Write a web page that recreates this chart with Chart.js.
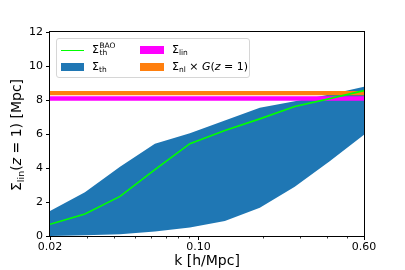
<!DOCTYPE html>
<html>
<head>
<meta charset="utf-8">
<script src="https://cdn.jsdelivr.net/npm/chart.js@4.4.1/dist/chart.umd.min.js"></script>
<style>
  html, body { margin: 0; padding: 0; background: #fff; }
  #wrap { position: relative; width: 405px; height: 270px; font-family: "DejaVu Sans", sans-serif; color: #000; }
  canvas { position: absolute; left: 0; top: 0; }
  .legend { position: absolute; left: 56px; top: 38px; width: 192px; height: 38px; border: 1px solid #d6d6d6; border-radius: 3px; background: rgba(255,255,255,0.8); }
  .sw { position: absolute; }
  .lab { position: absolute; font-size: 11px; line-height: 12px; white-space: nowrap; }
  .stk { display: inline-block; vertical-align: middle; line-height: 7px; font-size: 7.5px; position: relative; top: -1px; margin-left: 0.5px; }
  .stk span { display: block; }
  sub { font-size: 7.5px; vertical-align: -2px; line-height: 0; }
  .ytitle { position: absolute; left: 16px; top: 135px; transform: translate(-50%, -50%) rotate(-90deg); font-size: 14px; white-space: nowrap; }
  .ytitle sub { font-size: 9.5px; vertical-align: -3px; }
  i { font-style: italic; }
</style>
</head>
<body>
<div id="wrap">
  <canvas id="c" width="405" height="270"></canvas>
  <div class="ytitle">Σ<sub>lin</sub>(<i>z</i> = 1) [Mpc]</div>
  <div class="legend">
    <div class="sw" style="left:4px;top:10.5px;width:23px;height:1.6px;background:#00ff00"></div>
    <div class="lab" style="left:35px;top:4px">Σ<span class="stk"><span>BAO</span><span>th</span></span></div>
    <div class="sw" style="left:4px;top:23.5px;width:23px;height:8px;background:#1f77b4"></div>
    <div class="lab" style="left:35px;top:22px">Σ<sub>th</sub></div>
    <div class="sw" style="left:83px;top:6.5px;width:24px;height:8px;background:#ff00ff"></div>
    <div class="lab" style="left:115px;top:5px">Σ<sub>lin</sub></div>
    <div class="sw" style="left:83px;top:23.5px;width:24px;height:8px;background:#ff7f0e"></div>
    <div class="lab" style="left:115px;top:22px">Σ<sub>nl</sub> × <i>G</i>(<i>z</i> = 1)</div>
  </div>
</div>
<script>
// ---- data ----
const kValues = [0.02, 0.0292, 0.0427, 0.0623, 0.0910, 0.1329, 0.1941, 0.2834, 0.4138, 0.60];
const sigmaBAO = [0.69, 1.29, 2.33, 3.90, 5.43, 6.20, 6.89, 7.62, 8.08, 8.55];
const sigmaThUpper = [1.47, 2.58, 4.08, 5.42, 6.04, 6.80, 7.55, 7.92, 8.33, 8.78];
const sigmaThLower = [0.00, 0.04, 0.10, 0.26, 0.50, 0.88, 1.66, 2.90, 4.40, 5.95];
const sigmaLinBand = [7.96, 8.22];   // lower, upper
const sigmaNlBand = [8.28, 8.53];    // lower, upper
const xRange = [0.02, 0.60];
const yRange = [0, 12];
const yTicks = [0, 2, 4, 6, 8, 10, 12];
const xMajorTicks = [0.02, 0.10, 0.60];
const xTickLabels = ['0.02', '0.10', '0.60'];
const xMinorTicks = [0.03, 0.04, 0.05, 0.06, 0.07, 0.08, 0.09, 0.2, 0.3, 0.4, 0.5];

const pts = (xs, ys) => xs.map((x, i) => ({ x: x, y: ys[i] }));
const band = (v) => xRange.map(x => ({ x: x, y: v }));

const framePlugin = {
  id: 'frame',
  afterDatasetsDraw(chart) {
    const a = chart.chartArea, ctx = chart.ctx;
    ctx.save();
    ctx.strokeStyle = '#000';
    ctx.lineWidth = 1;
    ctx.strokeRect(Math.round(a.left) - 0.5, Math.round(a.top) - 0.5, Math.round(a.right - a.left) + 1, Math.round(a.bottom - a.top) + 1);
    // minor ticks on log x axis
    const xs = chart.scales.x;
    ctx.beginPath();
    xMinorTicks.forEach(v => {
      const px = Math.round(xs.getPixelForValue(v)) + 0.5;
      ctx.moveTo(px, Math.round(a.bottom) + 0.5);
      ctx.lineTo(px, Math.round(a.bottom) + 2.5);
    });
    ctx.lineWidth = 0.8;
    ctx.stroke();
    ctx.restore();
  }
};

const font = { family: 'DejaVu Sans', size: 11 };

new Chart(document.getElementById('c'), {
  type: 'line',
  data: {
    datasets: [
      { label: 'BAO', data: pts(kValues, sigmaBAO), borderColor: '#00ff00', borderWidth: 1.6, pointRadius: 0, fill: false, order: 0, tension: 0 },
      { label: 'th upper', data: pts(kValues, sigmaThUpper), borderColor: '#1f77b4', borderWidth: 0, backgroundColor: '#1f77b4', pointRadius: 0, fill: 2, order: 3, tension: 0 },
      { label: 'th lower', data: pts(kValues, sigmaThLower), borderColor: '#1f77b4', borderWidth: 0, pointRadius: 0, fill: false, order: 3, tension: 0 },
      { label: 'lin upper', data: band(sigmaLinBand[1]), borderWidth: 0, backgroundColor: '#ff00ff', pointRadius: 0, fill: 4, order: 2 },
      { label: 'lin lower', data: band(sigmaLinBand[0]), borderWidth: 0, pointRadius: 0, fill: false, order: 2 },
      { label: 'nl upper', data: band(sigmaNlBand[1]), borderWidth: 0, backgroundColor: '#ff7f0e', pointRadius: 0, fill: 6, order: 1 },
      { label: 'nl lower', data: band(sigmaNlBand[0]), borderWidth: 0, pointRadius: 0, fill: false, order: 1 }
    ]
  },
  options: {
    responsive: false,
    animation: false,
    devicePixelRatio: 1,
    layout: { padding: { left: 0, right: 41, top: 32, bottom: 0 } },
    plugins: { legend: { display: false }, tooltip: { enabled: false }, title: { display: false } },
    scales: {
      x: {
        type: 'logarithmic',
        min: xRange[0], max: xRange[1],
        afterBuildTicks(scale) {
          scale.ticks = xMajorTicks.map(v => ({ value: v }));
        },
        afterFit(scale) { scale.height = 34; },
        ticks: {
          autoSkip: false, maxRotation: 0, color: '#000', font: font, padding: 1,
          callback(value) {
            const i = xMajorTicks.findIndex(t => Math.abs(t - value) < 1e-9);
            return i >= 0 ? xTickLabels[i] : '';
          }
        },
        grid: { drawOnChartArea: false, drawTicks: true, tickLength: 4, tickColor: '#000', tickWidth: 1 },
        border: { display: false },
        title: { display: true, text: 'k [h/Mpc]', color: '#000', font: { family: 'DejaVu Sans', size: 14 }, padding: { top: 0, bottom: 0 } }
      },
      y: {
        min: yRange[0], max: yRange[1],
        afterBuildTicks(scale) { scale.ticks = yTicks.map(v => ({ value: v })); },
        afterFit(scale) { scale.width = 50; },
        ticks: { color: '#000', font: font, padding: 3 },
        grid: { drawOnChartArea: false, drawTicks: true, tickLength: 4, tickColor: '#000', tickWidth: 1 },
        border: { display: false }
      }
    }
  },
  plugins: [framePlugin]
});
</script>
</body>
</html>
